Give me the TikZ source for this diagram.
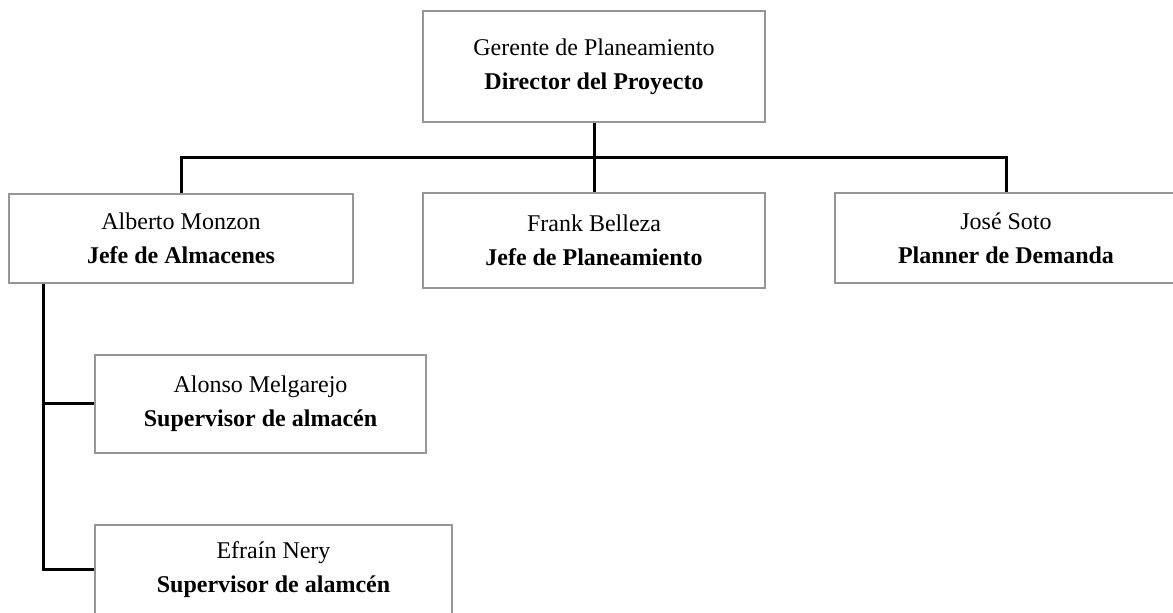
\documentclass[tikz,border=0pt]{standalone}
\usepackage{fontspec}
\setmainfont{Liberation Serif}
\usepackage{xcolor}
\definecolor{boxgray}{RGB}{150,150,150}
\usepackage{tikz}
\usetikzlibrary{positioning, calc}

\tikzset{
  unit/.style={draw=boxgray, line width=0.8pt, fill=white, align=center, inner sep=0pt,
    minimum width=171pt, minimum height=45pt, font=\fontsize{12}{17}\selectfont},
  link/.style={line width=1.5pt, black}
}

\begin{document}
\begin{tikzpicture}[x=0.5pt, y=-0.5pt]
  % Canvas
  \clip (0,0) rectangle (1173,613);
  \fill[white] (0,0) rectangle (1173,613);

  % --- Top: project director ---
  \node[unit, minimum height=55.5pt] (dir) at (594,66.5)
    {Gerente de Planeamiento\\\textbf{Director del Proyecto}};

  % --- Second row ---
  \node[unit, minimum width=172pt, minimum height=44.5pt] (alm) at (181,238.5)
    {Alberto Monzon\\\textbf{Jefe de Almacenes}};
  \node[unit, minimum height=47.5pt] (plan) at (594,240.5)
    {Frank Belleza\\\textbf{Jefe de Planeamiento}};
  \node[unit] (dem) at (1006,238)
    {José Soto\\\textbf{Planner de Demanda}};

  % --- Supervisors under the warehouse head ---
  \node[unit, minimum width=165.5pt, minimum height=49pt] (sup1) at (260.5,404)
    {Alonso Melgarejo\\\textbf{Supervisor de almacén}};
  \node[unit, minimum width=178.5pt, minimum height=45pt] (sup2) at (273.5,570)
    {Efraín Nery\\\textbf{Supervisor de alamcén}};

  % Connectors
  \coordinate (bus) at (594,158);
  \coordinate (trunk) at ([xshift=17.5pt]alm.south west);
  \draw[link] (dir.south) -- (plan.north);
  \draw[link] (alm.north) |- (bus) -| (dem.north);
  \draw[link] (trunk) |- (sup1.west);
  \draw[link] (trunk) |- (sup2.west);
\end{tikzpicture}
\end{document}
